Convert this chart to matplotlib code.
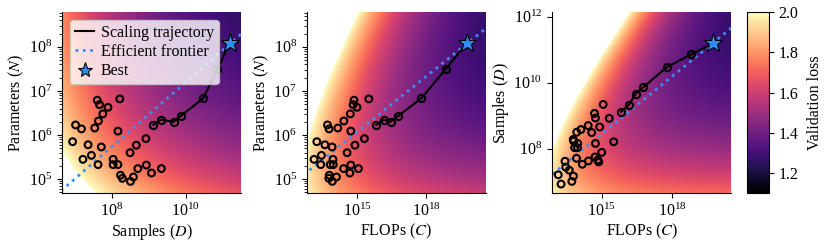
import numpy as np
import matplotlib
matplotlib.use("Agg")
import matplotlib.pyplot as plt
from matplotlib.lines import Line2D
from matplotlib.ticker import NullLocator, FixedLocator

plt.rcParams["font.family"] = "serif"
plt.rcParams["font.serif"] = ["Liberation Serif", "DejaVu Serif"]
plt.rcParams["mathtext.fontset"] = "stix"
plt.rcParams["font.size"] = 11.5

# sweep runs, log10 of samples D and params N
run_log_D = [7.60, 7.66, 8.21, 7.89, 7.75, 7.63, 7.53, 7.01, 7.17, 8.16,
             6.93, 7.35, 7.71, 7.44, 7.21, 7.62, 8.03, 8.03, 8.16, 8.23,
             8.28, 8.58, 8.50, 8.66, 8.92, 8.49, 8.70, 8.93, 9.07, 9.34]
run_log_N = [6.79, 6.69, 6.82, 6.63, 6.48, 6.32, 6.16, 6.23, 6.14, 6.09,
             5.85, 5.78, 5.73, 5.54, 5.45, 5.33, 5.45, 5.33, 5.33, 5.09,
             5.02, 5.05, 4.95, 5.77, 5.92, 5.60, 5.24, 5.32, 5.14, 5.24]

# scaling trajectory, last point is the best run
traj_log_D = [9.12, 9.33, 9.67, 9.86, 10.47, 10.86, 11.19]
traj_log_N = [6.23, 6.35, 6.30, 6.43, 6.83, 7.49, 8.09]

# fitted loss surface  L = E + A/N^alpha + B/D^beta,  C = k*N*D
E, A, B, alpha, beta = 1.098, 5.01, 7.16, 0.22, 0.16
k_flops = 3.0
vmin, vmax = 1.1, 2.0

star_color = "#2f8ff0"
front_color = "#3d8ef5"


def loss(N, D):
    return E + A / N**alpha + B / D**beta


run_N = 10.0 ** np.array(run_log_N)
run_D = 10.0 ** np.array(run_log_D)
run_C = k_flops * run_N * run_D
traj_N = 10.0 ** np.array(traj_log_N)
traj_D = 10.0 ** np.array(traj_log_D)
traj_C = k_flops * traj_N * traj_D

# efficient frontier from the fitted surface
C_line = np.logspace(8, 26, 200)
G = (alpha * A / (beta * B)) ** (1 / (alpha + beta))
N_opt = G * (C_line / k_flops) ** (beta / (alpha + beta))
D_opt = C_line / (k_flops * N_opt)

fig = plt.figure(figsize=(8.3, 2.43), dpi=100)
W, H = 830, 243
bot = 1 - 193.3 / H
hgt = 181.3 / H
ax1 = fig.add_axes([62.3 / W, bot, 178.7 / W, hgt])
ax2 = fig.add_axes([306.5 / W, bot, 179.5 / W, hgt])
ax3 = fig.add_axes([552 / W, bot, 179 / W, hgt])
cax = fig.add_axes([747 / W, bot, 22 / W, hgt])

# limits (log10) and major ticks per panel
setup = {
    "ax1": ((6.65, 11.50), (4.68, 8.79), [1e8, 1e10], [1e5, 1e6, 1e7, 1e8], True),
    "ax2": ((12.81, 20.58), (4.68, 8.79), [1e15, 1e18], [1e5, 1e6, 1e7, 1e8], True),
    "ax3": ((12.87, 20.52), (6.65, 12.14), [1e15, 1e18], [1e8, 1e10, 1e12], False),
}

n = 300
# panel 1: D vs N
xs = np.logspace(6.5, 11.7, n)
ys = np.logspace(4.5, 9.0, n)
X, Y = np.meshgrid(xs, ys)
L1 = loss(Y, X)
# panel 2: C vs N
xs2 = np.logspace(12.6, 20.8, n)
X2, Y2 = np.meshgrid(xs2, ys)
L2 = loss(Y2, X2 / (k_flops * Y2))
# panel 3: C vs D
ys3 = np.logspace(6.5, 12.3, n)
X3, Y3 = np.meshgrid(xs2, ys3)
L3 = loss(X3 / (k_flops * Y3), Y3)

for ax, (gx, gy, L) in zip([ax1, ax2, ax3], [(X, Y, L1), (X2, Y2, L2), (X3, Y3, L3)]):
    Lm = np.ma.masked_where(L > vmax, L)
    mesh = ax.pcolormesh(gx, gy, Lm, cmap="magma", vmin=vmin, vmax=vmax,
                         shading="auto", rasterized=True, zorder=0)

# panel 1
ax1.plot(D_opt, N_opt, ":", color=front_color, lw=2, zorder=2)
ax1.scatter(run_D, run_N, s=24, facecolors="none", edgecolors="black", lw=1.5, zorder=3)
ax1.plot(traj_D[:-1], traj_N[:-1], "-o", color="black", mfc="none", ms=5.2, mew=1.5, lw=1.5, zorder=4)
ax1.plot(traj_D[-2:], traj_N[-2:], "-", color="black", lw=1.5, zorder=4)
ax1.plot(traj_D[-1], traj_N[-1], "*", color=star_color, mec="black", mew=0.8, ms=14, zorder=5)
ax1.set_xlabel("Samples ($D$)")
ax1.set_ylabel("Parameters ($N$)")

# panel 2
ax2.plot(C_line, N_opt, ":", color=front_color, lw=2, zorder=2)
ax2.scatter(run_C, run_N, s=24, facecolors="none", edgecolors="black", lw=1.5, zorder=3)
ax2.plot(traj_C[:-1], traj_N[:-1], "-o", color="black", mfc="none", ms=5.2, mew=1.5, lw=1.5, zorder=4)
ax2.plot(traj_C[-2:], traj_N[-2:], "-", color="black", lw=1.5, zorder=4)
ax2.plot(traj_C[-1], traj_N[-1], "*", color=star_color, mec="black", mew=0.8, ms=14, zorder=5)
ax2.set_xlabel("FLOPs ($C$)")
ax2.set_ylabel("Parameters ($N$)")

# panel 3
ax3.plot(C_line, D_opt, ":", color=front_color, lw=2, zorder=2)
ax3.scatter(run_C, run_D, s=24, facecolors="none", edgecolors="black", lw=1.5, zorder=3)
ax3.plot(traj_C[:-1], traj_D[:-1], "-o", color="black", mfc="none", ms=5.2, mew=1.5, lw=1.5, zorder=4)
ax3.plot(traj_C[-2:], traj_D[-2:], "-", color="black", lw=1.5, zorder=4)
ax3.plot(traj_C[-1], traj_D[-1], "*", color=star_color, mec="black", mew=0.8, ms=14, zorder=5)
ax3.set_xlabel("FLOPs ($C$)")
ax3.set_ylabel("Samples ($D$)")

for name, ax in zip(["ax1", "ax2", "ax3"], [ax1, ax2, ax3]):
    (x0, x1), (y0, y1), xt, yt, yminor = setup[name]
    ax.set_xscale("log")
    ax.set_yscale("log")
    ax.set_xlim(10 ** x0, 10 ** x1)
    ax.set_ylim(10 ** y0, 10 ** y1)
    ax.xaxis.set_major_locator(FixedLocator(xt))
    ax.yaxis.set_major_locator(FixedLocator(yt))
    ax.xaxis.set_minor_locator(NullLocator())
    if not yminor:
        ax.yaxis.set_minor_locator(NullLocator())
    ax.spines["top"].set_visible(False)
    ax.spines["right"].set_visible(False)
    ax.xaxis.labelpad = 1
    ax.yaxis.labelpad = 2

handles = [
    Line2D([], [], color="black", lw=1.5),
    Line2D([], [], color=front_color, lw=2, ls=":"),
    Line2D([], [], ls="none", marker="*", color=star_color, mec="black", mew=0.8, ms=11),
]
ax1.legend(handles, ["Scaling trajectory", "Efficient frontier", "Best"],
           loc="upper left", fontsize=11.5, handlelength=1.2, handletextpad=0.4,
           borderpad=0.3, labelspacing=0.2, borderaxespad=0.5)

cb = fig.colorbar(mesh, cax=cax)
cb.set_ticks([1.2, 1.4, 1.6, 1.8, 2.0])
cb.set_label("Validation loss", labelpad=6)
cb.outline.set_linewidth(0.8)

fig.savefig("out.png", dpi=100)
